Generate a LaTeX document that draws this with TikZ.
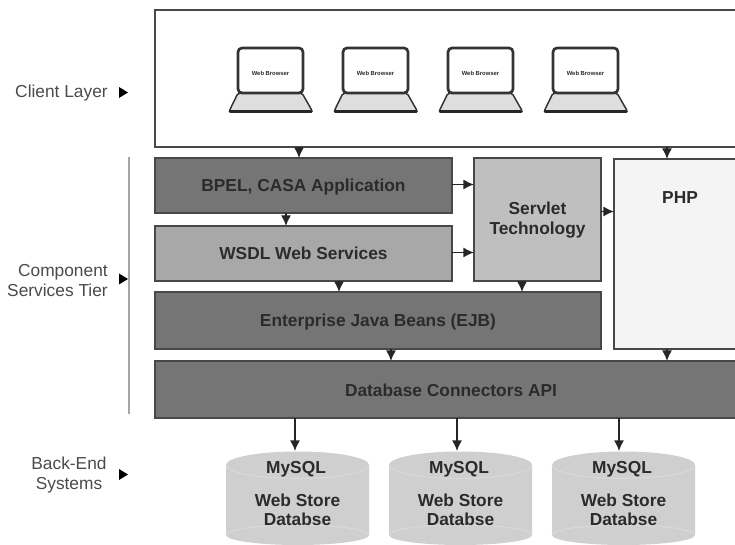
\documentclass[tikz,border=0pt]{standalone}
\usepackage{fontspec}
\setmainfont{Liberation Sans}
\usetikzlibrary{arrows.meta}
\definecolor{edgeG}{HTML}{484848}
\definecolor{darkG}{HTML}{757575}
\definecolor{midG}{HTML}{A8A8A8}
\definecolor{ltG}{HTML}{BFBFBF}
\definecolor{phpG}{HTML}{F4F4F4}
\definecolor{cylG}{HTML}{CFCFCF}
\definecolor{cylE}{HTML}{D9D9D9}
\definecolor{baseG}{HTML}{DEDEDE}
\definecolor{txtG}{HTML}{2B2B2B}
\tikzset{
  x=0.75pt,y=-0.75pt,
  blockbox/.style={draw=edgeG,line width=0.9pt,rectangle,anchor=north west,inner sep=0pt,outer sep=0pt,align=center,text=txtG,font=\bfseries\fontsize{13}{15}\selectfont},
  conn/.style={draw=black!85,line width=1pt,-{Latex[length=8pt,width=7.5pt]}},
  tierlabel/.style={align=right,anchor=east,inner sep=0pt,text=txtG!85,font=\fontsize{13}{15}\selectfont},
  dbtext/.style={align=center,text=txtG,font=\bfseries\fontsize{13}{14.2}\selectfont,inner sep=0pt}
}
\newcommand{\capmid}[1]{\raisebox{0pt}[9.4pt][0pt]{#1}}
\newcommand{\boxAt}[7]{\node[blockbox,fill=#2,minimum width=#5*0.75pt-#3*0.75pt,minimum height=#6*0.75pt-#4*0.75pt] (#1) at (#3,#4) {#7};}
\newcommand{\lapAt}[2]{%
  \draw[draw=black!80,line width=1.1pt,fill=baseG,rounded corners=1.5pt,line join=round] (#2-32,93) -- (#2+32,93) -- (#2+42.5,111.5) -- (#2-41,111.5) -- cycle;
  \draw[black!85,line width=2.1pt,line cap=round] (#2-40,111.5) -- (#2+41.5,111.5);
  \node[draw=black!80,line width=2pt,rounded corners=3pt,fill=white,minimum width=48.75pt,minimum height=33.75pt,inner sep=0pt,outer sep=0pt,text=txtG,font=\bfseries\fontsize{4.4}{5}\selectfont] (#1) at (#2+0.5,70.5) {\raisebox{0pt}[7pt][0pt]{Web Browser}};}
\newcommand{\cylAt}[2]{%
  \fill[cylG] (#2-71.5,465) arc[start angle=180,end angle=0,x radius=71.5,y radius=-13.5] -- (#2+71.5,535) arc[start angle=0,end angle=180,x radius=71.5,y radius=10] -- cycle;
  \draw[cylE,line width=0.8pt] (#2-71.5,465) arc[start angle=180,end angle=360,x radius=71.5,y radius=-13.5];
  \draw[cylE,line width=0.8pt] (#2-71.5,535) arc[start angle=180,end angle=360,x radius=71.5,y radius=10];
  \node[dbtext] (#1) at (#2-1.5,469) {MySQL};
  \node[dbtext] (#1t) at (#2,509.5) {Web Store\\Databse};
  \coordinate (#1top) at (#2,451);}
\begin{document}
\begin{tikzpicture}
\useasboundingbox (0,0) rectangle (735,545);
\clip (0,0) rectangle (735,545);
\fill[white] (0,0) rectangle (735,545);
% boxes
\boxAt{client}{white}{155}{10}{746}{147}{}
\boxAt{bpel}{darkG}{155}{158}{452}{213}{\capmid{BPEL, CASA Application}}
\boxAt{wsdl}{midG}{155}{226}{452}{281}{\capmid{WSDL Web Services}}
\boxAt{servlet}{ltG}{474}{158}{601}{281}{\rule{0pt}{10.2pt}Servlet\\Technology}
\boxAt{php}{phpG}{614}{159}{746}{349}{}
\node[dbtext] (phplabel) at (680,198) {PHP};
\boxAt{ejb}{darkG}{155}{292}{601}{349}{\capmid{Enterprise Java Beans (EJB)}}
\boxAt{api}{darkG}{155}{361}{747}{418}{\raisebox{0pt}[11pt][0pt]{Database Connectors API}}
% laptops
\lapAt{l1}{270}
\lapAt{l2}{375}
\lapAt{l3}{480}
\lapAt{l4}{585}
% cylinders
\cylAt{d1}{297.5}
\cylAt{d2}{460.5}
\cylAt{d3}{623.5}
% x guides
\coordinate (xa) at (299,0);
\coordinate (xb) at (667,0);
\coordinate (xc) at (286,0);
\coordinate (xd) at (339,0);
\coordinate (xe) at (522,0);
\coordinate (xf) at (391,0);
\coordinate (xg) at (295,0);
\coordinate (xh) at (457,0);
\coordinate (xi) at (619,0);
\coordinate (ya) at (0,184.5);
\coordinate (yb) at (0,252.5);
\coordinate (yc) at (0,211.5);
% connectors
\draw[conn] (client.south -| xa) -- (bpel.north -| xa);
\draw[conn] (client.south -| xb) -- (php.north -| xb);
\draw[conn] (bpel.south -| xc) -- (wsdl.north -| xc);
\draw[conn] (wsdl.south -| xd) -- (ejb.north -| xd);
\draw[conn] (servlet.south -| xe) -- (ejb.north -| xe);
\draw[conn] (ejb.south -| xf) -- (api.north -| xf);
\draw[conn] (php.south -| xb) -- (api.north -| xb);
\draw[conn] (bpel.east |- ya) -- (servlet.west |- ya);
\draw[conn] (wsdl.east |- yb) -- (servlet.west |- yb);
\draw[conn] (servlet.east |- yc) -- (php.west |- yc);
\draw[conn] (api.south -| xg) -- (d1top -| xg);
\draw[conn] (api.south -| xh) -- (d2top -| xh);
\draw[conn] (api.south -| xi) -- (d3top -| xi);
% tier labels
\node[tierlabel] (t1) at (108,93) {Client Layer};
\node[tierlabel] (t2) at (108,281) {Component\\Services Tier};
\node[tierlabel,align=center,anchor=center] (t3) at (69,475.5) {Back-End\\Systems};
\fill[black] (119,87) -- (128,92.5) -- (119,98) -- cycle;
\fill[black] (119,273.5) -- (128,279) -- (119,284.5) -- cycle;
\fill[black] (119,469) -- (128,474.5) -- (119,480) -- cycle;
\coordinate (va) at (129,157);
\coordinate (vb) at (129,414);
\draw[black!35,line width=0.9pt] (va) -- (vb);
\end{tikzpicture}
\end{document}
